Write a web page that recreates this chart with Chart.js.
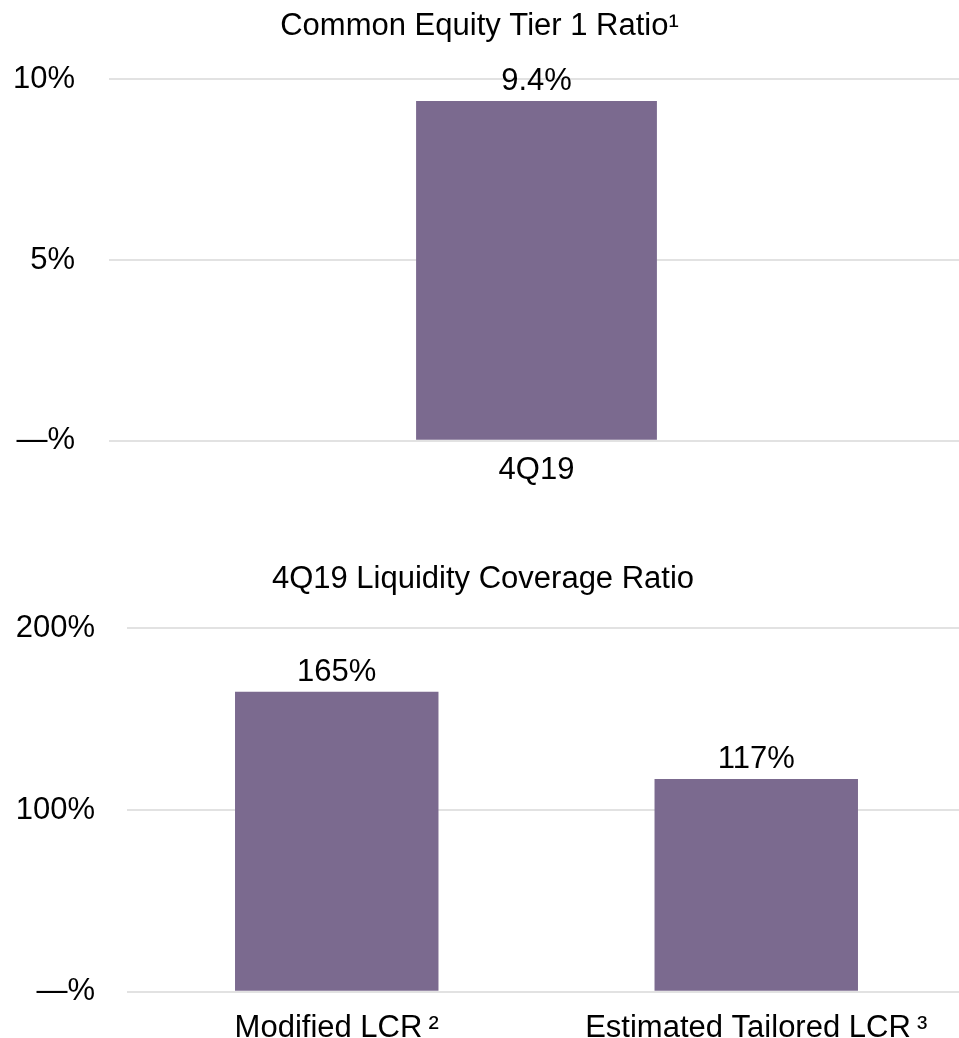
<!DOCTYPE html>
<html>
<head>
<meta charset="utf-8">
<script src="https://cdn.jsdelivr.net/npm/chart.js@4/dist/chart.umd.min.js"></script>
<style>
  html, body { margin: 0; padding: 0; background: #fff; overflow: hidden; }
  #cet1Box { position: absolute; left: 0; top: 0; }
  #lcrBox { position: absolute; left: 0; top: 540px; }
</style>
</head>
<body>
<div id="cet1Box"><canvas id="cet1Chart" width="959" height="500"></canvas></div>
<div id="lcrBox"><canvas id="lcrChart" width="966" height="525"></canvas></div>
<script>
// chart data
const cet1Title = 'Common Equity Tier 1 Ratio\u00B9';
const cet1Labels = ['4Q19'];
const cet1Values = [9.4];
const cet1Ticks = [0, 5, 10];

const lcrTitle = '4Q19 Liquidity Coverage Ratio';
const lcrLabels = ['Modified LCR\u2009\u00B2', 'Estimated Tailored LCR\u2009\u00B3'];
const lcrValues = [165, 117];
const lcrTicks = [0, 100, 200];

const barColor = '#7b6a8f';
const gridColor = '#e2e2e2';
const fontFamily = '"Liberation Sans", Arial, sans-serif';

Chart.defaults.font.family = fontFamily;
Chart.defaults.color = '#000';

// draws the value above each bar
const valueLabels = {
    id: 'valueLabels',
    afterDatasetsDraw(chart, args, opts) {
        const ctx = chart.ctx;
        const meta = chart.getDatasetMeta(0);
        ctx.save();
        ctx.font = '31px ' + fontFamily;
        ctx.fillStyle = '#000';
        ctx.textAlign = 'center';
        ctx.textBaseline = 'alphabetic';
        meta.data.forEach((bar, i) => {
            const v = chart.data.datasets[0].data[i];
            ctx.fillText(opts.format(v), bar.x, bar.y - 11);
        });
        ctx.restore();
    }
};

function tickText(value) {
    return value === 0 ? '\u2014%' : value + '%';
}

function makeChart(id, title, labels, values, ticks, opt) {
    const ctx = document.getElementById(id).getContext('2d');
    return new Chart(ctx, {
        type: 'bar',
        data: {
            labels: labels,
            datasets: [{
                data: values,
                backgroundColor: barColor,
                borderWidth: 0,
                barPercentage: opt.barPct,
                categoryPercentage: 1
            }]
        },
        plugins: [valueLabels],
        options: {
            responsive: false,
            animation: false,
            devicePixelRatio: 1,
            layout: { padding: 0 },
            plugins: {
                legend: { display: false },
                tooltip: { enabled: false },
                title: {
                    display: true,
                    text: title,
                    color: '#000',
                    font: { size: 31, weight: 'normal' },
                    padding: { top: opt.titleTop, bottom: opt.titleBottom }
                },
                valueLabels: { format: opt.format }
            },
            scales: {
                x: {
                    grid: { display: false, drawTicks: false },
                    border: { display: false },
                    ticks: { padding: opt.xPad, font: { size: 31 }, color: '#000' }
                },
                y: {
                    min: ticks[0],
                    max: ticks[ticks.length - 1],
                    afterBuildTicks: axis => { axis.ticks = ticks.map(v => ({ value: v })); },
                    afterFit: axis => { axis.width = opt.axisWidth; },
                    grid: { color: gridColor, lineWidth: 2, drawTicks: opt.tickLen > 0, tickLength: opt.tickLen },
                    border: { display: false },
                    ticks: {
                        padding: opt.yPad,
                        font: { size: 31 },
                        color: '#000',
                        callback: tickText
                    }
                }
            }
        }
    });
}

makeChart('cet1Chart', cet1Title, cet1Labels, cet1Values, cet1Ticks, {
    barPct: 0.285, titleTop: 8, titleBottom: 34, xPad: 11,
    axisWidth: 114, tickLen: 5, yPad: 34,
    format: v => v.toFixed(1) + '%'
});

makeChart('lcrChart', lcrTitle, lcrLabels, lcrValues, lcrTicks, {
    barPct: 0.485, titleTop: 21, titleBottom: 30, xPad: 18,
    axisWidth: 127, tickLen: 0, yPad: 32,
    format: v => v + '%'
});
</script>
</body>
</html>
